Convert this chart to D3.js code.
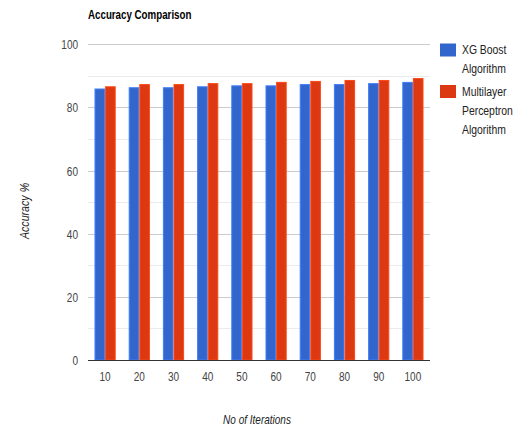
<!DOCTYPE html>
<html><head><meta charset="utf-8">
<script src="https://cdn.jsdelivr.net/npm/d3@7"></script>
<style>body{margin:0;background:#fff}svg{display:block}text{font-family:"Liberation Sans",Arial,sans-serif}</style>
</head><body><svg id="c" width="515" height="427"></svg>
<script>
const categories = ["10","20","30","40","50","60","70","80","90","100"];
const seriesNames = ["XG Boost Algorithm","Multilayer Perceptron Algorithm"];
const xgBoost = [86.0,86.4,86.4,86.7,87.0,87.0,87.4,87.4,87.7,88.1];
const mlp = [86.7,87.4,87.4,87.7,87.7,88.1,88.4,88.7,88.7,89.3];
const yTicks = [0,20,40,60,80,100];
const yMinor = [10,30,50,70,90];
const colors = ["#3366cc","#dc3912"];
const legendLines = [["XG Boost","Algorithm"],["Multilayer","Perceptron","Algorithm"]];

const svg = d3.select("#c");
const m = {l:88, r:430, t:44.3, b:360};
const x = d3.scaleBand().domain(categories).range([m.l,m.r]).paddingInner(0.38).paddingOuter(0.19);
const y = d3.scaleLinear().domain([0,100]).range([m.b,m.t]);
const x1 = d3.scaleBand().domain([0,1]).range([0,x.bandwidth()]);

// horizontally condense text around its anchor x
function condense(sel, f){
  sel.each(function(){
    const ax = +(this.getAttribute("x")||0);
    d3.select(this).attr("transform",`translate(${ax},0) scale(${f},1) translate(${-ax},0)`);
  });
  return sel;
}
const F = 0.77;

svg.append("g").selectAll("line").data(yMinor).join("line")
  .attr("x1",m.l).attr("x2",m.r).attr("y1",d=>Math.round(y(d))+0.5).attr("y2",d=>Math.round(y(d))+0.5)
  .attr("stroke","#ebebeb");
svg.append("g").selectAll("line").data(yTicks.filter(d=>d>0)).join("line")
  .attr("x1",m.l).attr("x2",m.r).attr("y1",d=>Math.round(y(d))+0.5).attr("y2",d=>Math.round(y(d))+0.5)
  .attr("stroke","#cccccc");

const data = [xgBoost, mlp];
data.forEach((vals,si)=>{
  svg.append("g").selectAll("rect").data(vals).join("rect")
    .attr("x",(d,i)=>x(categories[i])+x1(si)+0.5)
    .attr("width",x1.bandwidth()-1)
    .attr("y",d=>y(d)+0.5)
    .attr("height",d=>y(0)-y(d)-0.5)
    .attr("fill",colors[si])
    .attr("stroke",d3.color(colors[si]).brighter(0.6))
    .attr("stroke-width",1);
});

svg.append("line").attr("x1",m.l).attr("x2",m.r).attr("y1",m.b+0.5).attr("y2",m.b+0.5).attr("stroke","#333");

const yAxis = d3.axisLeft(y).tickValues(yTicks).tickSize(0).tickPadding(10);
const gy = svg.append("g").attr("transform",`translate(${m.l},0)`).call(yAxis);
gy.select(".domain").remove();
gy.selectAll("text").attr("fill","#444").attr("font-size",13).attr("dy","0.35em").call(condense,F);

const xAxis = d3.axisBottom(x).tickSize(0).tickPadding(12);
const gx = svg.append("g").attr("transform",`translate(0,${m.b})`).call(xAxis);
gx.select(".domain").remove();
gx.selectAll("text").attr("fill","#444").attr("font-size",13).call(condense,F);

svg.append("text").attr("x",88).attr("y",19).attr("font-size",13).attr("font-weight","bold").attr("fill","#000").text("Accuracy Comparison").call(condense,0.75);

svg.append("g").attr("transform","translate(29,211) rotate(-90)")
  .append("text").attr("text-anchor","middle")
  .attr("font-size",13).attr("font-style","italic").attr("fill","#222").text("Accuracy %")
  .attr("transform","scale(0.82,1)");
svg.append("text").attr("x",257).attr("y",424).attr("text-anchor","middle")
  .attr("font-size",13).attr("font-style","italic").attr("fill","#222").text("No of Iterations").call(condense,F);

const legTop = [43.5, 85];
seriesNames.forEach((s,i)=>{
  svg.append("rect").attr("x",440).attr("y",legTop[i]).attr("width",16).attr("height",13).attr("fill",colors[i]);
  legendLines[i].forEach((ln,j)=>{
    svg.append("text").attr("x",462).attr("y",legTop[i]+11+j*19).attr("font-size",13.5).attr("fill","#222")
      .text(ln).call(condense,F);
  });
});
</script></body></html>
